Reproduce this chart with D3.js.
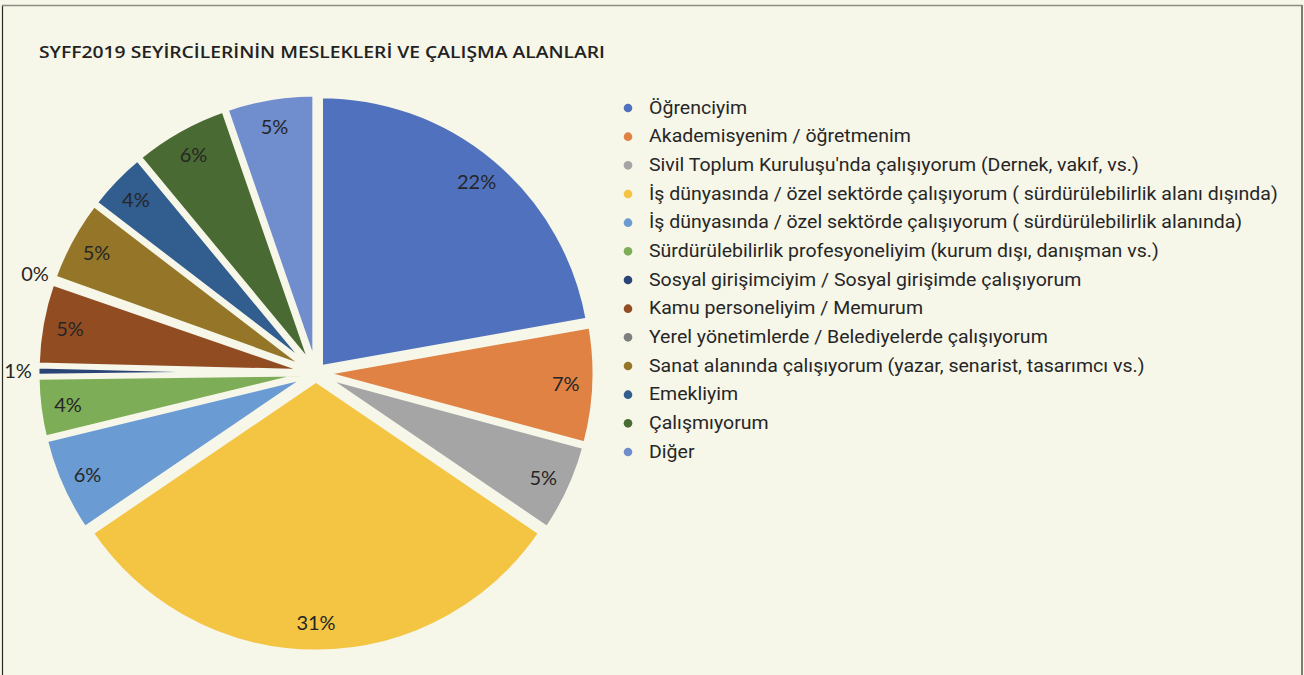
<!DOCTYPE html>
<html>
<head>
<meta charset="utf-8">
<script src="https://cdn.jsdelivr.net/npm/d3@7"></script>
<style>
  html, body { margin: 0; padding: 0; background: #f6f6e9; }
  svg { display: block; }
</style>
</head>
<body>
<div id="chart"></div>
<script>
// Data
const title = "SYFF2019 SEYİRCİLERİNİN MESLEKLERİ VE ÇALIŞMA ALANLARI";

const categories = [
    "Öğrenciyim",
    "Akademisyenim / öğretmenim",
    "Sivil Toplum Kuruluşu'nda çalışıyorum (Dernek, vakıf, vs.)",
    "İş dünyasında / özel sektörde çalışıyorum ( sürdürülebilirlik alanı dışında)",
    "İş dünyasında / özel sektörde çalışıyorum ( sürdürülebilirlik alanında)",
    "Sürdürülebilirlik profesyoneliyim (kurum dışı, danışman vs.)",
    "Sosyal girişimciyim / Sosyal girişimde çalışıyorum",
    "Kamu personeliyim / Memurum",
    "Yerel yönetimlerde / Belediyelerde çalışıyorum",
    "Sanat alanında çalışıyorum (yazar, senarist, tasarımcı vs.)",
    "Emekliyim",
    "Çalışmıyorum",
    "Diğer"
];

// percent shares
const values = [22.2, 7.0, 5.3, 31.0, 5.7, 3.6, 0.6, 4.9, 0.2, 4.9, 3.6, 5.7, 5.3];

const colors = [
    "#5072be", "#e08244", "#a5a5a5", "#f4c443", "#6a9bd2", "#7ead57", "#2a4478",
    "#924c22", "#7d7f7f", "#957628", "#315d8f", "#4a6a33", "#708dcd"
];

const W = 1304, H = 675;
const bg = "#f6f6e9";

const svg = d3.select("#chart").append("svg")
    .attr("width", W)
    .attr("height", H);

svg.append("rect").attr("width", W).attr("height", H).attr("fill", bg);

// frame
svg.append("path")
    .attr("d", `M2.5,${H + 5} V5.5 H1302 V${H + 5}`)
    .attr("fill", "none")
    .attr("stroke", "#2a2a24")
    .attr("stroke-width", 1.2);
svg.append("line")
    .attr("x1", 2).attr("x2", 1302).attr("y1", 5.5).attr("y2", 5.5)
    .attr("stroke", "#8c8c82").attr("stroke-width", 1.5);

// Title
svg.append("text")
    .attr("x", 39)
    .attr("y", 58)
    .attr("fill", "#222")
    .style("font-family", "'Open Sans', Lato, sans-serif")
    .style("font-weight", "600")
    .style("font-size", "16px")
    .attr("textLength", 566)
    .attr("lengthAdjust", "spacingAndGlyphs")
    .text(title);

// Pie
const cx = 316, cy = 373;
const R = 272, explode = 7;
const data = categories.map((c, i) => ({ name: c, value: values[i], color: colors[i] }));

const pie = d3.pie().value(d => d.value).sort(null);
const arcs = pie(data);
const arc = d3.arc().innerRadius(0).outerRadius(R);

const g = svg.append("g").attr("transform", `translate(${cx},${cy})`);

function offset(d, r) {
    const a = (d.startAngle + d.endAngle) / 2;
    return [Math.sin(a) * r, -Math.cos(a) * r];
}

g.selectAll("path.slice")
    .data(arcs)
    .join("path")
    .attr("class", "slice")
    .attr("d", arc)
    .attr("transform", d => `translate(${offset(d, explode)})`)
    .attr("fill", d => d.data.color)
    .attr("stroke", bg)
    .attr("stroke-width", 5)
    .attr("stroke-linejoin", "miter");

// Data labels
g.selectAll("text.lbl")
    .data(arcs)
    .join("text")
    .attr("class", "lbl")
    .attr("x", d => offset(d, d.data.value < 1 ? 298 : 250)[0])
    .attr("y", d => offset(d, d.data.value < 1 ? 298 : 250)[1])
    .attr("dy", "0.36em")
    .attr("text-anchor", "middle")
    .attr("fill", "#262626")
    .style("font-family", "Lato, 'Open Sans', sans-serif")
    .style("font-size", "20px")
    .text(d => Math.round(d.data.value) + "%");

// Legend
const legend = svg.append("g");
const rowY = d3.scalePoint().domain(categories).range([107, 451]);

const rows = legend.selectAll("g.row")
    .data(data)
    .join("g")
    .attr("class", "row");

rows.append("circle")
    .attr("cx", 628)
    .attr("cy", d => rowY(d.name) + 1)
    .attr("r", 4.3)
    .attr("fill", d => d.color);

const texts = rows.append("text")
    .attr("transform", d => `translate(649,${rowY(d.name) + 6.5})`)
    .attr("fill", "#262626")
    .style("font-family", "Roboto, sans-serif")
    .style("font-size", "18.5px")
    .text(d => d.name);

// condense legend text to the width of the longest line in the reference
let maxW = 0;
texts.each(function () { maxW = Math.max(maxW, this.getComputedTextLength()); });
const k = 629 / maxW;
texts.attr("transform", d => `translate(649,${rowY(d.name) + 6.5}) scale(${k},1)`);
</script>
</body>
</html>
